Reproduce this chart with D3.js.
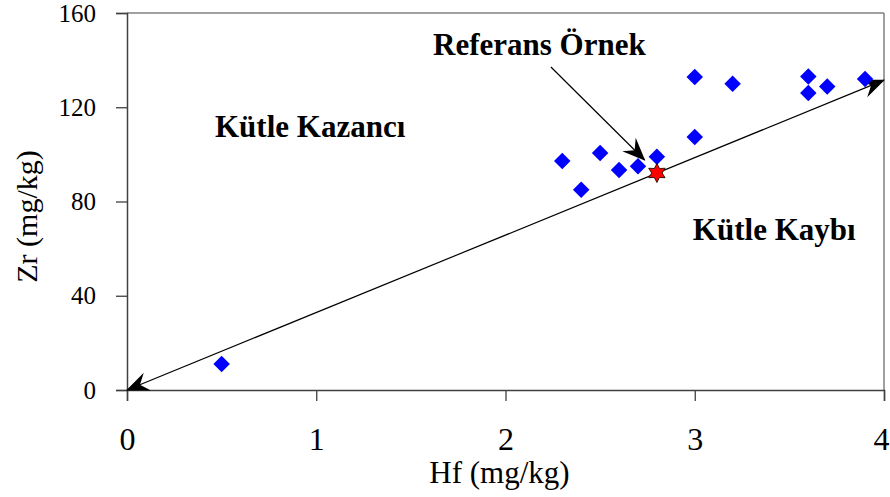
<!DOCTYPE html>
<html>
<head>
<meta charset="utf-8">
<script src="https://cdn.jsdelivr.net/npm/d3@7"></script>
<style>
  html, body { margin: 0; padding: 0; background: #fff; }
  svg { display: block; }
  text { font-family: "Liberation Serif", "Times New Roman", serif; fill: #000; }
</style>
</head>
<body>
<script>
// ---- data ----
const hfValues = [0.5, 2.3, 2.4, 2.5, 2.6, 2.7, 2.8, 3.0, 3.0, 3.2, 3.6, 3.6, 3.7, 3.9];
const zrValues = [11, 97.2, 85, 100.6, 93.4, 95, 99, 132.8, 107.4, 130, 133, 126, 128.8, 132];
const refHf = [2.8];
const refZr = [92.1];
const lineHf = [0, 4];
const lineZr = [0, 131.5];
const xTicks = [0, 1, 2, 3, 4];
const xMinorTicks = [0.5, 1.5, 2.5, 3.5];
const yTicks = [0, 40, 80, 120, 160];
const yMinorTicks = [20, 60, 100, 140];
const xTitle = "Hf (mg/kg)";
const yTitle = "Zr (mg/kg)";
const annotations = ["Referans Örnek", "Kütle Kazancı", "Kütle Kaybı"];
const annotHf = [1.617, 0.465, 2.99];
const annotZr = [142.2, 107.5, 63.5];
const pointerHf = [2.24, 2.735];
const pointerZr = [137.1, 97.6];

// ---- layout ----
const W = 890, H = 497;
const m = { left: 127, top: 13, right: 6, bottom: 107 };
const iw = W - m.left - m.right, ih = H - m.top - m.bottom;

const svg = d3.select("body").append("svg").attr("width", W).attr("height", H);
const defs = svg.append("defs");
defs.append("marker")
  .attr("id", "stealth")
  .attr("markerUnits", "userSpaceOnUse")
  .attr("viewBox", "-24 -12 26 24")
  .attr("refX", 0).attr("refY", 0)
  .attr("markerWidth", 26).attr("markerHeight", 24)
  .attr("orient", "auto-start-reverse")
  .append("path")
  .attr("d", "M1,0 L-22,-9.5 L-14,0 L-22,9.5 Z")
  .attr("fill", "#000");

const g = svg.append("g").attr("transform", `translate(${m.left},${m.top})`);
const x = d3.scaleLinear().domain([0, 4]).range([0, iw]);
const y = d3.scaleLinear().domain([0, 160]).range([ih, 0]);

// frame (top/right gray)
g.append("line").attr("x1", 0).attr("x2", iw).attr("y1", 0).attr("y2", 0)
  .attr("stroke", "#808080").attr("stroke-width", 1.5);
g.append("line").attr("x1", iw).attr("x2", iw).attr("y1", 0).attr("y2", ih)
  .attr("stroke", "#808080").attr("stroke-width", 1.5);

// x axis
const xAxisG = g.append("g").attr("transform", `translate(0,${ih})`);
xAxisG.call(d3.axisBottom(x).tickValues(xMinorTicks).tickSize(7).tickFormat(""));
xAxisG.call(d3.axisBottom(x).tickValues(xTicks).tickSize(11).tickPadding(26).tickFormat(d3.format("d")));
xAxisG.selectAll(".domain").attr("stroke", "#404040").attr("stroke-width", 1.5);
xAxisG.selectAll(".tick line").attr("stroke", "#404040").attr("stroke-width", 1.3);
xAxisG.selectAll(".tick text").style("font-size", "32px").attr("font-family", "Liberation Serif")
  .attr("dx", d => d === 4 ? -3 : 0);

// y axis
const yAxisG = g.append("g");
yAxisG.call(d3.axisLeft(y).tickValues(yMinorTicks).tickSize(7).tickFormat(""));
yAxisG.call(d3.axisLeft(y).tickValues(yTicks).tickSize(11).tickPadding(20).tickFormat(d3.format("d")));
yAxisG.selectAll(".domain").attr("stroke", "#404040").attr("stroke-width", 1.5);
yAxisG.selectAll(".tick line").attr("stroke", "#404040").attr("stroke-width", 1.3);
yAxisG.selectAll(".tick text").style("font-size", "25px").attr("font-family", "Liberation Serif");

// axis titles
svg.append("text").attr("x", m.left + iw / 2 - 6).attr("y", 483)
  .attr("text-anchor", "middle").style("font-size", "31px").text(xTitle);
svg.append("text").attr("transform", `translate(37,${m.top + ih / 2 + 15}) rotate(-90)`)
  .attr("text-anchor", "middle").style("font-size", "30px").text(yTitle);

// diagonal line with arrows at both ends
g.append("line")
  .attr("x1", x(lineHf[0])).attr("y1", y(lineZr[0]))
  .attr("x2", x(lineHf[1])).attr("y2", y(lineZr[1]))
  .attr("stroke", "#000").attr("stroke-width", 1.2)
  .attr("marker-start", "url(#stealth)").attr("marker-end", "url(#stealth)");

// data points (blue diamonds)
g.selectAll("path.pt").data(hfValues.map((h, i) => [h, zrValues[i]]))
  .enter().append("path").attr("class", "pt")
  .attr("d", d3.symbol().type(d3.symbolSquare).size(136))
  .attr("transform", d => `translate(${x(d[0])},${y(d[1])}) rotate(45)`)
  .attr("fill", "#0000FF");

// pointer arrow
g.append("line")
  .attr("x1", x(pointerHf[0])).attr("y1", y(pointerZr[0]))
  .attr("x2", x(pointerHf[1])).attr("y2", y(pointerZr[1]))
  .attr("stroke", "#000").attr("stroke-width", 1.2)
  .attr("marker-end", "url(#stealth)");

// reference point (red 6-point star)
function star6(r1, r2) {
  const pts = [];
  for (let i = 0; i < 12; i++) {
    const a = -Math.PI / 2 + i * Math.PI / 6;
    const r = i % 2 === 0 ? r1 : r2;
    pts.push([r * Math.cos(a), r * Math.sin(a)]);
  }
  return "M" + pts.map(p => p.join(",")).join("L") + "Z";
}
g.selectAll("path.ref").data(refHf.map((h, i) => [h, refZr[i]]))
  .enter().append("path").attr("class", "ref")
  .attr("d", star6(9.5, 5.2))
  .attr("transform", d => `translate(${x(d[0])},${y(d[1])})`)
  .attr("fill", "#FF0000").attr("stroke", "#000").attr("stroke-width", 0.8);

// annotation texts
g.selectAll("text.ann").data(annotations).enter().append("text").attr("class", "ann")
  .attr("x", (d, i) => x(annotHf[i])).attr("y", (d, i) => y(annotZr[i]))
  .style("font-size", "31px").style("font-weight", "bold").text(d => d);
</script>
</body>
</html>
